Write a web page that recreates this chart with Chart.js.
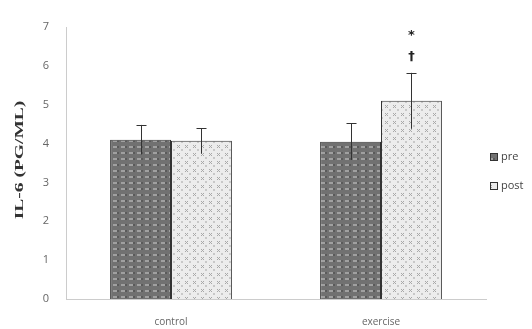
<!DOCTYPE html>
<html lang="en">
<head>
<meta charset="UTF-8">
<script src="https://cdn.jsdelivr.net/npm/chart.js"></script>
<title>IL-6</title>
<style>
  body { margin: 0; background: #fff; }
  #wrap { width: 532px; height: 329px; }
</style>
</head>
<body>
<div id="wrap"><canvas id="grafico" width="532" height="329"></canvas></div>
<script>
var categorias = ["control", "exercise"]
var valoresPre = [4.1, 4.05]
var valoresPost = [4.07, 5.1]
var erroPre = [0.38, 0.47]
var erroPost = [0.33, 0.72]
var marcasPost = [[], ["†", "*"]]
var ticksY = [0, 1, 2, 3, 4, 5, 6, 7]
var tituloY = "IL-6 (PG/ML)"

// padroes de preenchimento das barras
function padraoPre() {
    var c = document.createElement("canvas")
    c.width = 8; c.height = 6
    var g = c.getContext("2d")
    g.fillStyle = "#717171"
    g.fillRect(0, 0, 8, 6)
    g.fillStyle = "#a0a0a0"
    g.fillRect(1, 2, 4, 2)
    g.fillStyle = "#5a5a5a"
    g.fillRect(5, 2, 2, 2)
    return g.createPattern(c, "repeat")
}
function padraoPost() {
    var c = document.createElement("canvas")
    c.width = 8; c.height = 8
    var g = c.getContext("2d")
    g.fillStyle = "#ececec"
    g.fillRect(0, 0, 8, 8)
    g.fillStyle = "#a8a8a8"
    g.fillRect(1, 1, 1, 1); g.fillRect(3, 1, 1, 1)
    g.fillRect(2, 2, 1, 1)
    g.fillRect(1, 3, 1, 1); g.fillRect(3, 3, 1, 1)
    g.fillStyle = "#c8c8c8"
    g.fillRect(5, 5, 2, 2)
    return g.createPattern(c, "repeat")
}

var errosPlugin = {
    id: "erros",
    afterDatasetsDraw(chart) {
        var ctx = chart.ctx
        var y = chart.scales.y
        var erros = [erroPre, erroPost]
        ctx.save()
        ctx.strokeStyle = "#333"
        ctx.lineWidth = 1
        chart.data.datasets.forEach(function (ds, d) {
            var meta = chart.getDatasetMeta(d)
            meta.data.forEach(function (bar, i) {
                var x = Math.round(bar.x) + 0.5
                var topo = y.getPixelForValue(ds.data[i] + erros[d][i])
                var base = y.getPixelForValue(ds.data[i] - erros[d][i])
                ctx.beginPath()
                ctx.moveTo(x, base)
                ctx.lineTo(x, topo)
                ctx.moveTo(x - 5, Math.round(topo) + 0.5)
                ctx.lineTo(x + 5, Math.round(topo) + 0.5)
                ctx.stroke()
                if (d == 1 && marcasPost[i].length) {
                    ctx.fillStyle = "#222"
                    ctx.textAlign = "center"
                    ctx.font = "bold 13px 'DejaVu Sans'"
                    var yy = topo - 13
                    marcasPost[i].forEach(function (m) {
                        ctx.fillText(m, x, yy)
                        yy -= 21
                    })
                }
            })
        })
        ctx.restore()
    }
}

// legenda ao lado direito e titulo do eixo y (esticado como no original)
var legendaPlugin = {
    id: "legenda",
    afterDraw(chart) {
        var ctx = chart.ctx
        var x = chart.chartArea.right + 4
        var y = 157
        ctx.save()
        ctx.font = "11px 'Open Sans'"
        ctx.textBaseline = "middle"
        chart.data.datasets.forEach(function (ds) {
            ctx.fillStyle = ds.backgroundColor
            ctx.fillRect(x, y - 4, 8, 8)
            ctx.strokeStyle = "#333"
            ctx.strokeRect(x + 0.5, y - 3.5, 7, 7)
            ctx.fillStyle = "#444"
            ctx.fillText(ds.label, x + 11, y)
            y += 29
        })
        ctx.restore()

        ctx.save()
        ctx.translate(20, 160)
        ctx.rotate(-Math.PI / 2)
        ctx.scale(1.5, 1)
        ctx.font = "bold 13px 'Liberation Serif'"
        ctx.fillStyle = "#333"
        ctx.textAlign = "center"
        ctx.textBaseline = "middle"
        ctx.fillText(tituloY, 0, 0)
        ctx.restore()
    }
}

var cinza = "#666"

new Chart(document.getElementById("grafico"), {
    type: "bar",
    data: {
        labels: categorias,
        datasets: [{
            label: "pre",
            data: valoresPre,
            backgroundColor: padraoPre(),
            borderColor: "#333",
            borderWidth: 1
        }, {
            label: "post",
            data: valoresPost,
            backgroundColor: padraoPost(),
            borderColor: "#333",
            borderWidth: 1
        }]
    },
    options: {
        responsive: false,
        animation: false,
        layout: { padding: { left: 14, top: 27, right: 46, bottom: 2 } },
        datasets: { bar: { categoryPercentage: 0.58, barPercentage: 1 } },
        plugins: {
            legend: { display: false },
            tooltip: { enabled: false }
        },
        scales: {
            y: {
                min: 0,
                max: 7,
                afterBuildTicks: function (s) { s.ticks = ticksY.map(function (v) { return { value: v } }) },
                afterFit: function (s) { s.width = 52 },
                grid: { display: false, drawTicks: true, tickLength: 5, tickColor: "#ccc" },
                border: { color: "#ccc" },
                ticks: { color: cinza, padding: 12, font: { size: 11, family: "'Open Sans'" } }
            },
            x: {
                afterFit: function (s) { s.height = 28 },
                grid: { display: false, tickLength: 4, tickColor: "#ccc" },
                border: { color: "#ccc" },
                ticks: { color: cinza, padding: 13, font: { size: 10, family: "'Open Sans'" } }
            }
        }
    },
    plugins: [errosPlugin, legendaPlugin]
})
</script>
</body>
</html>
